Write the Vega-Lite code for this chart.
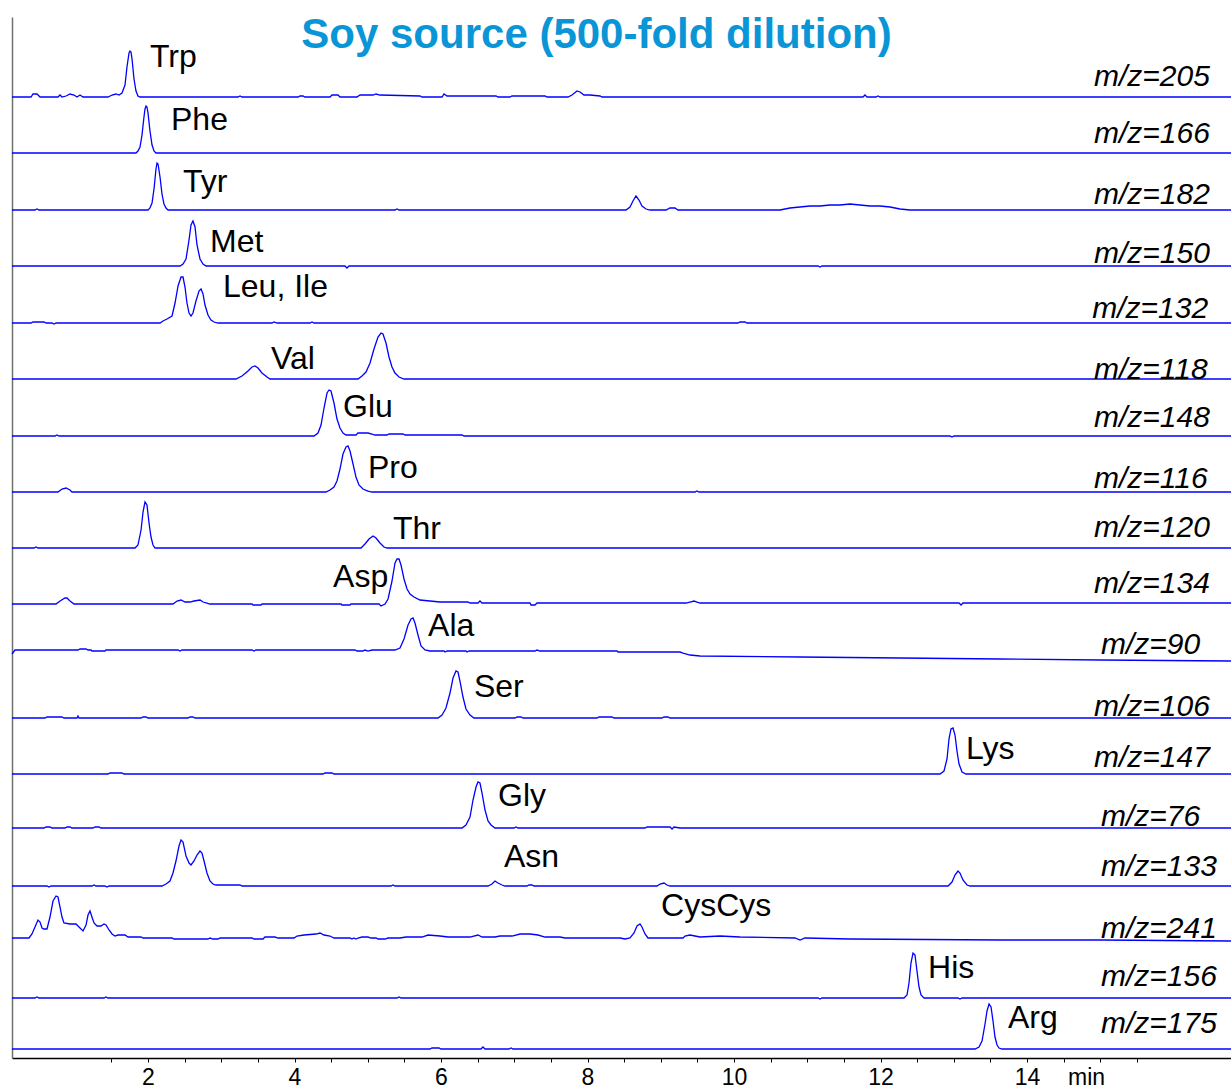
{
"$schema": "https://vega.github.io/schema/vega-lite/v6.json",
"width": 1219, "height": 1041,
"autosize": {"type": "none"},
"padding": {"left": 12, "top": 17, "right": 0, "bottom": 30},
"background": "white",
"config": {"view": {"stroke": null}, "font": "Liberation Sans"},
"title": {"text": "Soy source (500-fold dilution)", "font": "Liberation Sans", "fontSize": 42, "fontWeight": "bold", "color": "#0a95d6", "anchor": "middle", "frame": "group", "dx": -25, "dy": 73, "baseline": "alphabetic", "offset": 0},
"datasets": {
"chrom": [
{"trace":"Trp","t":0.143,"v":0},{"trace":"Trp","t":0.403,"v":0},{"trace":"Trp","t":0.430,"v":3},{"trace":"Trp","t":0.485,"v":3},{"trace":"Trp","t":0.526,"v":0},{"trace":"Trp","t":0.771,"v":0},{"trace":"Trp","t":0.799,"v":2},{"trace":"Trp","t":0.826,"v":0},{"trace":"Trp","t":0.881,"v":1},{"trace":"Trp","t":0.935,"v":3},{"trace":"Trp","t":0.990,"v":2},{"trace":"Trp","t":1.031,"v":0},{"trace":"Trp","t":1.072,"v":2},{"trace":"Trp","t":1.113,"v":0},{"trace":"Trp","t":1.454,"v":0},{"trace":"Trp","t":1.509,"v":2},{"trace":"Trp","t":1.563,"v":3},{"trace":"Trp","t":1.604,"v":2},{"trace":"Trp","t":1.645,"v":4},{"trace":"Trp","t":1.686,"v":12},{"trace":"Trp","t":1.713,"v":30},{"trace":"Trp","t":1.741,"v":44},{"trace":"Trp","t":1.754,"v":46},{"trace":"Trp","t":1.768,"v":45},{"trace":"Trp","t":1.782,"v":38},{"trace":"Trp","t":1.809,"v":18},{"trace":"Trp","t":1.836,"v":6},{"trace":"Trp","t":1.863,"v":1},{"trace":"Trp","t":1.891,"v":0},{"trace":"Trp","t":3.229,"v":0},{"trace":"Trp","t":3.256,"v":1},{"trace":"Trp","t":3.283,"v":0},{"trace":"Trp","t":4.048,"v":0},{"trace":"Trp","t":4.075,"v":1},{"trace":"Trp","t":4.116,"v":1},{"trace":"Trp","t":4.143,"v":0},{"trace":"Trp","t":4.485,"v":0},{"trace":"Trp","t":4.512,"v":2},{"trace":"Trp","t":4.594,"v":2},{"trace":"Trp","t":4.621,"v":0},{"trace":"Trp","t":4.853,"v":0},{"trace":"Trp","t":4.894,"v":2},{"trace":"Trp","t":5.072,"v":2},{"trace":"Trp","t":5.113,"v":3},{"trace":"Trp","t":5.167,"v":2},{"trace":"Trp","t":5.713,"v":1},{"trace":"Trp","t":5.741,"v":0},{"trace":"Trp","t":6.014,"v":0},{"trace":"Trp","t":6.041,"v":3},{"trace":"Trp","t":6.082,"v":1},{"trace":"Trp","t":6.751,"v":1},{"trace":"Trp","t":6.778,"v":0},{"trace":"Trp","t":6.942,"v":0},{"trace":"Trp","t":6.969,"v":1},{"trace":"Trp","t":7.420,"v":1},{"trace":"Trp","t":7.447,"v":0},{"trace":"Trp","t":7.734,"v":0},{"trace":"Trp","t":7.788,"v":2},{"trace":"Trp","t":7.857,"v":6},{"trace":"Trp","t":7.898,"v":5},{"trace":"Trp","t":7.952,"v":2},{"trace":"Trp","t":8.034,"v":2},{"trace":"Trp","t":8.171,"v":1},{"trace":"Trp","t":8.198,"v":0},{"trace":"Trp","t":11.761,"v":0},{"trace":"Trp","t":11.788,"v":2},{"trace":"Trp","t":11.816,"v":0},{"trace":"Trp","t":11.939,"v":0},{"trace":"Trp","t":11.966,"v":1},{"trace":"Trp","t":11.993,"v":0},{"trace":"Trp","t":16.785,"v":0},
{"trace":"Phe","t":0.143,"v":0},{"trace":"Phe","t":1.836,"v":0},{"trace":"Phe","t":1.863,"v":2},{"trace":"Phe","t":1.891,"v":6},{"trace":"Phe","t":1.918,"v":18},{"trace":"Phe","t":1.945,"v":36},{"trace":"Phe","t":1.959,"v":44},{"trace":"Phe","t":1.973,"v":47},{"trace":"Phe","t":1.986,"v":46},{"trace":"Phe","t":2.000,"v":40},{"trace":"Phe","t":2.027,"v":22},{"trace":"Phe","t":2.055,"v":8},{"trace":"Phe","t":2.082,"v":2},{"trace":"Phe","t":2.109,"v":0},{"trace":"Phe","t":16.785,"v":0},
{"trace":"Tyr","t":0.143,"v":-1},{"trace":"Tyr","t":0.457,"v":-1},{"trace":"Tyr","t":0.485,"v":0},{"trace":"Tyr","t":0.512,"v":-1},{"trace":"Tyr","t":2.000,"v":-1},{"trace":"Tyr","t":2.027,"v":1},{"trace":"Tyr","t":2.055,"v":6},{"trace":"Tyr","t":2.082,"v":20},{"trace":"Tyr","t":2.109,"v":40},{"trace":"Tyr","t":2.123,"v":46},{"trace":"Tyr","t":2.137,"v":45},{"trace":"Tyr","t":2.164,"v":32},{"trace":"Tyr","t":2.191,"v":15},{"trace":"Tyr","t":2.218,"v":5},{"trace":"Tyr","t":2.246,"v":1},{"trace":"Tyr","t":2.273,"v":-1},{"trace":"Tyr","t":5.372,"v":-1},{"trace":"Tyr","t":5.400,"v":0},{"trace":"Tyr","t":5.427,"v":-1},{"trace":"Tyr","t":8.526,"v":-1},{"trace":"Tyr","t":8.580,"v":2},{"trace":"Tyr","t":8.621,"v":8},{"trace":"Tyr","t":8.662,"v":13},{"trace":"Tyr","t":8.703,"v":9},{"trace":"Tyr","t":8.744,"v":3},{"trace":"Tyr","t":8.799,"v":0},{"trace":"Tyr","t":8.853,"v":-1},{"trace":"Tyr","t":9.072,"v":-1},{"trace":"Tyr","t":9.126,"v":1},{"trace":"Tyr","t":9.194,"v":1},{"trace":"Tyr","t":9.235,"v":-1},{"trace":"Tyr","t":10.628,"v":-1},{"trace":"Tyr","t":10.764,"v":1},{"trace":"Tyr","t":10.901,"v":2},{"trace":"Tyr","t":11.037,"v":3},{"trace":"Tyr","t":11.174,"v":3},{"trace":"Tyr","t":11.310,"v":4},{"trace":"Tyr","t":11.447,"v":4},{"trace":"Tyr","t":11.584,"v":5},{"trace":"Tyr","t":11.720,"v":4},{"trace":"Tyr","t":11.857,"v":3},{"trace":"Tyr","t":11.993,"v":3},{"trace":"Tyr","t":12.130,"v":2},{"trace":"Tyr","t":12.266,"v":0},{"trace":"Tyr","t":12.403,"v":-1},{"trace":"Tyr","t":16.785,"v":-1},
{"trace":"Met","t":0.143,"v":-1},{"trace":"Met","t":2.437,"v":-1},{"trace":"Met","t":2.478,"v":1},{"trace":"Met","t":2.519,"v":6},{"trace":"Met","t":2.560,"v":25},{"trace":"Met","t":2.587,"v":40},{"trace":"Met","t":2.614,"v":44},{"trace":"Met","t":2.642,"v":38},{"trace":"Met","t":2.669,"v":20},{"trace":"Met","t":2.710,"v":6},{"trace":"Met","t":2.751,"v":1},{"trace":"Met","t":2.792,"v":-1},{"trace":"Met","t":4.689,"v":-1},{"trace":"Met","t":4.716,"v":-3},{"trace":"Met","t":4.744,"v":-1},{"trace":"Met","t":11.147,"v":-1},{"trace":"Met","t":11.174,"v":-2},{"trace":"Met","t":11.201,"v":-1},{"trace":"Met","t":16.785,"v":-1},
{"trace":"Leu","t":0.143,"v":-2},{"trace":"Leu","t":0.403,"v":-2},{"trace":"Leu","t":0.430,"v":-1},{"trace":"Leu","t":0.580,"v":-1},{"trace":"Leu","t":0.608,"v":-2},{"trace":"Leu","t":0.689,"v":-2},{"trace":"Leu","t":0.717,"v":-3},{"trace":"Leu","t":0.744,"v":-2},{"trace":"Leu","t":2.164,"v":-2},{"trace":"Leu","t":2.205,"v":0},{"trace":"Leu","t":2.259,"v":2},{"trace":"Leu","t":2.328,"v":5},{"trace":"Leu","t":2.369,"v":18},{"trace":"Leu","t":2.410,"v":35},{"trace":"Leu","t":2.451,"v":44},{"trace":"Leu","t":2.478,"v":44},{"trace":"Leu","t":2.505,"v":34},{"trace":"Leu","t":2.532,"v":18},{"trace":"Leu","t":2.560,"v":8},{"trace":"Leu","t":2.587,"v":5},{"trace":"Leu","t":2.614,"v":8},{"trace":"Leu","t":2.655,"v":20},{"trace":"Leu","t":2.696,"v":30},{"trace":"Leu","t":2.724,"v":32},{"trace":"Leu","t":2.751,"v":27},{"trace":"Leu","t":2.778,"v":16},{"trace":"Leu","t":2.819,"v":6},{"trace":"Leu","t":2.860,"v":1},{"trace":"Leu","t":2.901,"v":-1},{"trace":"Leu","t":2.956,"v":-2},{"trace":"Leu","t":3.693,"v":-2},{"trace":"Leu","t":3.720,"v":-1},{"trace":"Leu","t":3.761,"v":-2},{"trace":"Leu","t":4.212,"v":-2},{"trace":"Leu","t":4.239,"v":-1},{"trace":"Leu","t":4.266,"v":-2},{"trace":"Leu","t":10.054,"v":-2},{"trace":"Leu","t":10.082,"v":-1},{"trace":"Leu","t":10.150,"v":-1},{"trace":"Leu","t":10.177,"v":-2},{"trace":"Leu","t":16.785,"v":-2},
{"trace":"Val","t":0.143,"v":-2},{"trace":"Val","t":3.201,"v":-2},{"trace":"Val","t":3.283,"v":1},{"trace":"Val","t":3.365,"v":6},{"trace":"Val","t":3.420,"v":10},{"trace":"Val","t":3.461,"v":11},{"trace":"Val","t":3.502,"v":9},{"trace":"Val","t":3.556,"v":4},{"trace":"Val","t":3.625,"v":0},{"trace":"Val","t":3.666,"v":-2},{"trace":"Val","t":4.867,"v":-2},{"trace":"Val","t":4.921,"v":1},{"trace":"Val","t":4.976,"v":5},{"trace":"Val","t":5.031,"v":14},{"trace":"Val","t":5.085,"v":28},{"trace":"Val","t":5.140,"v":40},{"trace":"Val","t":5.181,"v":44},{"trace":"Val","t":5.208,"v":43},{"trace":"Val","t":5.249,"v":34},{"trace":"Val","t":5.290,"v":20},{"trace":"Val","t":5.331,"v":10},{"trace":"Val","t":5.372,"v":4},{"trace":"Val","t":5.427,"v":0},{"trace":"Val","t":5.495,"v":-2},{"trace":"Val","t":16.785,"v":-2},
{"trace":"Glu","t":0.143,"v":-3},{"trace":"Glu","t":0.730,"v":-3},{"trace":"Glu","t":0.758,"v":-2},{"trace":"Glu","t":0.785,"v":-3},{"trace":"Glu","t":4.266,"v":-3},{"trace":"Glu","t":4.321,"v":0},{"trace":"Glu","t":4.362,"v":8},{"trace":"Glu","t":4.403,"v":25},{"trace":"Glu","t":4.444,"v":40},{"trace":"Glu","t":4.471,"v":43},{"trace":"Glu","t":4.498,"v":42},{"trace":"Glu","t":4.539,"v":30},{"trace":"Glu","t":4.580,"v":14},{"trace":"Glu","t":4.621,"v":5},{"trace":"Glu","t":4.662,"v":0},{"trace":"Glu","t":4.703,"v":-2},{"trace":"Glu","t":4.758,"v":-2},{"trace":"Glu","t":4.839,"v":-2},{"trace":"Glu","t":4.867,"v":0},{"trace":"Glu","t":5.003,"v":0},{"trace":"Glu","t":5.058,"v":-1},{"trace":"Glu","t":5.099,"v":-2},{"trace":"Glu","t":5.263,"v":-2},{"trace":"Glu","t":5.290,"v":-1},{"trace":"Glu","t":5.481,"v":-1},{"trace":"Glu","t":5.509,"v":-2},{"trace":"Glu","t":6.287,"v":-2},{"trace":"Glu","t":6.314,"v":-3},{"trace":"Glu","t":12.949,"v":-3},{"trace":"Glu","t":12.976,"v":-4},{"trace":"Glu","t":13.003,"v":-3},{"trace":"Glu","t":16.785,"v":-3},
{"trace":"Pro","t":0.143,"v":-3},{"trace":"Pro","t":0.771,"v":-3},{"trace":"Pro","t":0.826,"v":0},{"trace":"Pro","t":0.881,"v":1},{"trace":"Pro","t":0.935,"v":-1},{"trace":"Pro","t":0.962,"v":-3},{"trace":"Pro","t":4.430,"v":-3},{"trace":"Pro","t":4.485,"v":-1},{"trace":"Pro","t":4.539,"v":2},{"trace":"Pro","t":4.580,"v":8},{"trace":"Pro","t":4.621,"v":20},{"trace":"Pro","t":4.662,"v":35},{"trace":"Pro","t":4.703,"v":42},{"trace":"Pro","t":4.730,"v":43},{"trace":"Pro","t":4.758,"v":38},{"trace":"Pro","t":4.799,"v":25},{"trace":"Pro","t":4.839,"v":12},{"trace":"Pro","t":4.880,"v":4},{"trace":"Pro","t":4.935,"v":0},{"trace":"Pro","t":5.003,"v":-2},{"trace":"Pro","t":5.058,"v":-3},{"trace":"Pro","t":9.467,"v":-3},{"trace":"Pro","t":9.495,"v":-2},{"trace":"Pro","t":9.522,"v":-3},{"trace":"Pro","t":16.785,"v":-3},
{"trace":"Thr","t":0.143,"v":-3},{"trace":"Thr","t":0.444,"v":-3},{"trace":"Thr","t":0.471,"v":-2},{"trace":"Thr","t":0.498,"v":-3},{"trace":"Thr","t":1.823,"v":-3},{"trace":"Thr","t":1.863,"v":0},{"trace":"Thr","t":1.905,"v":15},{"trace":"Thr","t":1.932,"v":33},{"trace":"Thr","t":1.959,"v":43},{"trace":"Thr","t":1.986,"v":40},{"trace":"Thr","t":2.014,"v":22},{"trace":"Thr","t":2.041,"v":8},{"trace":"Thr","t":2.068,"v":0},{"trace":"Thr","t":2.096,"v":-3},{"trace":"Thr","t":4.908,"v":-3},{"trace":"Thr","t":4.962,"v":1},{"trace":"Thr","t":5.017,"v":6},{"trace":"Thr","t":5.072,"v":9},{"trace":"Thr","t":5.113,"v":7},{"trace":"Thr","t":5.167,"v":2},{"trace":"Thr","t":5.222,"v":-2},{"trace":"Thr","t":5.263,"v":-3},{"trace":"Thr","t":16.785,"v":-3},
{"trace":"Asp","t":0.143,"v":-3},{"trace":"Asp","t":0.744,"v":-3},{"trace":"Asp","t":0.799,"v":0},{"trace":"Asp","t":0.867,"v":3},{"trace":"Asp","t":0.894,"v":3},{"trace":"Asp","t":0.935,"v":0},{"trace":"Asp","t":0.990,"v":-3},{"trace":"Asp","t":2.341,"v":-3},{"trace":"Asp","t":2.396,"v":0},{"trace":"Asp","t":2.451,"v":1},{"trace":"Asp","t":2.505,"v":-1},{"trace":"Asp","t":2.573,"v":-1},{"trace":"Asp","t":2.628,"v":0},{"trace":"Asp","t":2.710,"v":1},{"trace":"Asp","t":2.751,"v":-1},{"trace":"Asp","t":2.805,"v":-2},{"trace":"Asp","t":2.846,"v":-3},{"trace":"Asp","t":3.420,"v":-3},{"trace":"Asp","t":3.434,"v":-4},{"trace":"Asp","t":3.543,"v":-4},{"trace":"Asp","t":3.557,"v":-3},{"trace":"Asp","t":4.635,"v":-3},{"trace":"Asp","t":4.648,"v":-4},{"trace":"Asp","t":4.758,"v":-4},{"trace":"Asp","t":4.771,"v":-3},{"trace":"Asp","t":5.154,"v":-3},{"trace":"Asp","t":5.181,"v":-5},{"trace":"Asp","t":5.236,"v":-3},{"trace":"Asp","t":5.277,"v":2},{"trace":"Asp","t":5.331,"v":20},{"trace":"Asp","t":5.372,"v":38},{"trace":"Asp","t":5.400,"v":42},{"trace":"Asp","t":5.427,"v":42},{"trace":"Asp","t":5.454,"v":36},{"trace":"Asp","t":5.495,"v":22},{"trace":"Asp","t":5.536,"v":12},{"trace":"Asp","t":5.577,"v":7},{"trace":"Asp","t":5.631,"v":4},{"trace":"Asp","t":5.713,"v":1},{"trace":"Asp","t":5.850,"v":0},{"trace":"Asp","t":5.986,"v":-1},{"trace":"Asp","t":6.368,"v":-1},{"trace":"Asp","t":6.396,"v":-2},{"trace":"Asp","t":6.505,"v":-2},{"trace":"Asp","t":6.532,"v":0},{"trace":"Asp","t":6.560,"v":-2},{"trace":"Asp","t":7.215,"v":-2},{"trace":"Asp","t":7.229,"v":-4},{"trace":"Asp","t":7.283,"v":-4},{"trace":"Asp","t":7.311,"v":-2},{"trace":"Asp","t":9.345,"v":-2},{"trace":"Asp","t":9.399,"v":-1},{"trace":"Asp","t":9.454,"v":0},{"trace":"Asp","t":9.495,"v":-1},{"trace":"Asp","t":9.536,"v":-2},{"trace":"Asp","t":13.072,"v":-2},{"trace":"Asp","t":13.099,"v":-4},{"trace":"Asp","t":13.126,"v":-2},{"trace":"Asp","t":16.785,"v":-2},
{"trace":"Ala","t":0.143,"v":3},{"trace":"Ala","t":0.184,"v":7},{"trace":"Ala","t":1.044,"v":7},{"trace":"Ala","t":1.072,"v":8},{"trace":"Ala","t":1.154,"v":8},{"trace":"Ala","t":1.181,"v":7},{"trace":"Ala","t":1.222,"v":7},{"trace":"Ala","t":1.235,"v":6},{"trace":"Ala","t":1.413,"v":6},{"trace":"Ala","t":1.427,"v":7},{"trace":"Ala","t":2.410,"v":7},{"trace":"Ala","t":2.437,"v":6},{"trace":"Ala","t":2.464,"v":7},{"trace":"Ala","t":3.420,"v":7},{"trace":"Ala","t":3.447,"v":6},{"trace":"Ala","t":3.474,"v":7},{"trace":"Ala","t":4.826,"v":7},{"trace":"Ala","t":4.853,"v":6},{"trace":"Ala","t":4.935,"v":6},{"trace":"Ala","t":4.962,"v":7},{"trace":"Ala","t":5.003,"v":6},{"trace":"Ala","t":5.058,"v":7},{"trace":"Ala","t":5.372,"v":7},{"trace":"Ala","t":5.440,"v":9},{"trace":"Ala","t":5.495,"v":18},{"trace":"Ala","t":5.550,"v":32},{"trace":"Ala","t":5.591,"v":38},{"trace":"Ala","t":5.618,"v":39},{"trace":"Ala","t":5.645,"v":34},{"trace":"Ala","t":5.686,"v":22},{"trace":"Ala","t":5.727,"v":11},{"trace":"Ala","t":5.782,"v":7},{"trace":"Ala","t":5.850,"v":6},{"trace":"Ala","t":6.041,"v":6},{"trace":"Ala","t":6.055,"v":5},{"trace":"Ala","t":6.082,"v":6},{"trace":"Ala","t":6.341,"v":6},{"trace":"Ala","t":6.355,"v":5},{"trace":"Ala","t":6.382,"v":6},{"trace":"Ala","t":7.283,"v":6},{"trace":"Ala","t":7.311,"v":7},{"trace":"Ala","t":7.352,"v":6},{"trace":"Ala","t":8.403,"v":6},{"trace":"Ala","t":8.417,"v":5},{"trace":"Ala","t":9.263,"v":5},{"trace":"Ala","t":9.304,"v":4},{"trace":"Ala","t":9.399,"v":2},{"trace":"Ala","t":9.536,"v":1},{"trace":"Ala","t":10.901,"v":0},{"trace":"Ala","t":12.266,"v":-1},{"trace":"Ala","t":13.631,"v":-2},{"trace":"Ala","t":14.997,"v":-3},{"trace":"Ala","t":16.785,"v":-4},
{"trace":"Ser","t":0.143,"v":-5},{"trace":"Ser","t":0.594,"v":-5},{"trace":"Ser","t":0.621,"v":-4},{"trace":"Ser","t":0.826,"v":-4},{"trace":"Ser","t":0.853,"v":-5},{"trace":"Ser","t":1.031,"v":-5},{"trace":"Ser","t":1.044,"v":-3},{"trace":"Ser","t":1.058,"v":-5},{"trace":"Ser","t":1.905,"v":-5},{"trace":"Ser","t":1.932,"v":-4},{"trace":"Ser","t":1.973,"v":-4},{"trace":"Ser","t":2.000,"v":-5},{"trace":"Ser","t":2.546,"v":-5},{"trace":"Ser","t":2.573,"v":-4},{"trace":"Ser","t":2.614,"v":-4},{"trace":"Ser","t":2.642,"v":-5},{"trace":"Ser","t":5.959,"v":-5},{"trace":"Ser","t":6.014,"v":-2},{"trace":"Ser","t":6.068,"v":5},{"trace":"Ser","t":6.123,"v":20},{"trace":"Ser","t":6.164,"v":35},{"trace":"Ser","t":6.205,"v":42},{"trace":"Ser","t":6.232,"v":41},{"trace":"Ser","t":6.259,"v":32},{"trace":"Ser","t":6.300,"v":16},{"trace":"Ser","t":6.341,"v":4},{"trace":"Ser","t":6.396,"v":-2},{"trace":"Ser","t":6.450,"v":-5},{"trace":"Ser","t":7.010,"v":-5},{"trace":"Ser","t":7.038,"v":-4},{"trace":"Ser","t":7.092,"v":-4},{"trace":"Ser","t":7.120,"v":-5},{"trace":"Ser","t":8.130,"v":-5},{"trace":"Ser","t":8.157,"v":-4},{"trace":"Ser","t":8.335,"v":-4},{"trace":"Ser","t":8.362,"v":-5},{"trace":"Ser","t":9.017,"v":-5},{"trace":"Ser","t":9.044,"v":-4},{"trace":"Ser","t":9.099,"v":-4},{"trace":"Ser","t":9.126,"v":-5},{"trace":"Ser","t":16.785,"v":-5},
{"trace":"Lys","t":0.143,"v":-5},{"trace":"Lys","t":1.454,"v":-5},{"trace":"Lys","t":1.481,"v":-4},{"trace":"Lys","t":1.645,"v":-4},{"trace":"Lys","t":1.672,"v":-5},{"trace":"Lys","t":4.389,"v":-5},{"trace":"Lys","t":4.416,"v":-4},{"trace":"Lys","t":4.512,"v":-4},{"trace":"Lys","t":4.539,"v":-5},{"trace":"Lys","t":12.812,"v":-5},{"trace":"Lys","t":12.867,"v":-2},{"trace":"Lys","t":12.908,"v":10},{"trace":"Lys","t":12.935,"v":30},{"trace":"Lys","t":12.962,"v":40},{"trace":"Lys","t":12.990,"v":41},{"trace":"Lys","t":13.017,"v":34},{"trace":"Lys","t":13.044,"v":18},{"trace":"Lys","t":13.072,"v":5},{"trace":"Lys","t":13.113,"v":-3},{"trace":"Lys","t":13.167,"v":-5},{"trace":"Lys","t":16.785,"v":-5},
{"trace":"Gly","t":0.143,"v":-3},{"trace":"Gly","t":0.580,"v":-3},{"trace":"Gly","t":0.608,"v":-2},{"trace":"Gly","t":0.662,"v":-2},{"trace":"Gly","t":0.689,"v":-3},{"trace":"Gly","t":0.867,"v":-3},{"trace":"Gly","t":0.894,"v":-2},{"trace":"Gly","t":0.935,"v":-2},{"trace":"Gly","t":0.962,"v":-3},{"trace":"Gly","t":1.249,"v":-3},{"trace":"Gly","t":1.276,"v":-2},{"trace":"Gly","t":1.331,"v":-2},{"trace":"Gly","t":1.358,"v":-3},{"trace":"Gly","t":6.287,"v":-3},{"trace":"Gly","t":6.341,"v":0},{"trace":"Gly","t":6.396,"v":8},{"trace":"Gly","t":6.437,"v":25},{"trace":"Gly","t":6.478,"v":38},{"trace":"Gly","t":6.505,"v":43},{"trace":"Gly","t":6.532,"v":42},{"trace":"Gly","t":6.560,"v":32},{"trace":"Gly","t":6.601,"v":15},{"trace":"Gly","t":6.642,"v":4},{"trace":"Gly","t":6.683,"v":0},{"trace":"Gly","t":6.737,"v":-3},{"trace":"Gly","t":6.997,"v":-3},{"trace":"Gly","t":7.024,"v":-2},{"trace":"Gly","t":7.051,"v":-3},{"trace":"Gly","t":8.785,"v":-3},{"trace":"Gly","t":8.812,"v":-2},{"trace":"Gly","t":9.126,"v":-2},{"trace":"Gly","t":9.154,"v":-4},{"trace":"Gly","t":9.181,"v":-2},{"trace":"Gly","t":9.263,"v":-3},{"trace":"Gly","t":16.785,"v":-3},
{"trace":"Asn","t":0.143,"v":-5},{"trace":"Asn","t":0.621,"v":-5},{"trace":"Asn","t":0.648,"v":-6},{"trace":"Asn","t":0.676,"v":-5},{"trace":"Asn","t":1.235,"v":-5},{"trace":"Asn","t":1.263,"v":-4},{"trace":"Asn","t":1.290,"v":-5},{"trace":"Asn","t":1.413,"v":-5},{"trace":"Asn","t":1.440,"v":-6},{"trace":"Asn","t":1.468,"v":-5},{"trace":"Asn","t":2.191,"v":-5},{"trace":"Asn","t":2.246,"v":-3},{"trace":"Asn","t":2.300,"v":0},{"trace":"Asn","t":2.341,"v":8},{"trace":"Asn","t":2.382,"v":20},{"trace":"Asn","t":2.423,"v":35},{"trace":"Asn","t":2.451,"v":41},{"trace":"Asn","t":2.478,"v":39},{"trace":"Asn","t":2.519,"v":25},{"trace":"Asn","t":2.560,"v":18},{"trace":"Asn","t":2.587,"v":16},{"trace":"Asn","t":2.628,"v":20},{"trace":"Asn","t":2.669,"v":26},{"trace":"Asn","t":2.710,"v":30},{"trace":"Asn","t":2.737,"v":28},{"trace":"Asn","t":2.765,"v":20},{"trace":"Asn","t":2.805,"v":8},{"trace":"Asn","t":2.846,"v":0},{"trace":"Asn","t":2.887,"v":-3},{"trace":"Asn","t":2.928,"v":-4},{"trace":"Asn","t":3.256,"v":-4},{"trace":"Asn","t":3.283,"v":-5},{"trace":"Asn","t":5.317,"v":-5},{"trace":"Asn","t":5.345,"v":-4},{"trace":"Asn","t":5.372,"v":-5},{"trace":"Asn","t":6.642,"v":-5},{"trace":"Asn","t":6.696,"v":-3},{"trace":"Asn","t":6.737,"v":0},{"trace":"Asn","t":6.778,"v":-2},{"trace":"Asn","t":6.833,"v":-4},{"trace":"Asn","t":6.874,"v":-5},{"trace":"Asn","t":7.174,"v":-5},{"trace":"Asn","t":7.201,"v":-4},{"trace":"Asn","t":7.242,"v":-4},{"trace":"Asn","t":7.270,"v":-5},{"trace":"Asn","t":8.949,"v":-5},{"trace":"Asn","t":8.990,"v":-3},{"trace":"Asn","t":9.044,"v":-2},{"trace":"Asn","t":9.085,"v":-4},{"trace":"Asn","t":9.126,"v":-5},{"trace":"Asn","t":12.922,"v":-5},{"trace":"Asn","t":12.976,"v":-1},{"trace":"Asn","t":13.017,"v":6},{"trace":"Asn","t":13.058,"v":10},{"trace":"Asn","t":13.085,"v":8},{"trace":"Asn","t":13.126,"v":1},{"trace":"Asn","t":13.181,"v":-4},{"trace":"Asn","t":13.222,"v":-5},{"trace":"Asn","t":16.785,"v":-5},
{"trace":"CysCys","t":0.143,"v":-1},{"trace":"CysCys","t":0.375,"v":-1},{"trace":"CysCys","t":0.416,"v":3},{"trace":"CysCys","t":0.457,"v":10},{"trace":"CysCys","t":0.498,"v":17},{"trace":"CysCys","t":0.526,"v":15},{"trace":"CysCys","t":0.553,"v":9},{"trace":"CysCys","t":0.580,"v":8},{"trace":"CysCys","t":0.621,"v":8},{"trace":"CysCys","t":0.662,"v":20},{"trace":"CysCys","t":0.703,"v":36},{"trace":"CysCys","t":0.744,"v":41},{"trace":"CysCys","t":0.771,"v":40},{"trace":"CysCys","t":0.799,"v":30},{"trace":"CysCys","t":0.826,"v":20},{"trace":"CysCys","t":0.853,"v":14},{"trace":"CysCys","t":0.935,"v":13},{"trace":"CysCys","t":1.017,"v":13},{"trace":"CysCys","t":1.072,"v":9},{"trace":"CysCys","t":1.113,"v":6},{"trace":"CysCys","t":1.154,"v":12},{"trace":"CysCys","t":1.181,"v":22},{"trace":"CysCys","t":1.208,"v":26},{"trace":"CysCys","t":1.235,"v":20},{"trace":"CysCys","t":1.263,"v":14},{"trace":"CysCys","t":1.304,"v":11},{"trace":"CysCys","t":1.358,"v":11},{"trace":"CysCys","t":1.399,"v":13},{"trace":"CysCys","t":1.427,"v":12},{"trace":"CysCys","t":1.468,"v":7},{"trace":"CysCys","t":1.509,"v":3},{"trace":"CysCys","t":1.549,"v":1},{"trace":"CysCys","t":1.590,"v":2},{"trace":"CysCys","t":1.686,"v":2},{"trace":"CysCys","t":1.727,"v":0},{"trace":"CysCys","t":1.905,"v":0},{"trace":"CysCys","t":1.932,"v":-1},{"trace":"CysCys","t":2.328,"v":-1},{"trace":"CysCys","t":2.355,"v":-2},{"trace":"CysCys","t":2.819,"v":-2},{"trace":"CysCys","t":2.846,"v":-1},{"trace":"CysCys","t":2.887,"v":-2},{"trace":"CysCys","t":2.956,"v":-2},{"trace":"CysCys","t":2.983,"v":-1},{"trace":"CysCys","t":3.420,"v":-1},{"trace":"CysCys","t":3.447,"v":-2},{"trace":"CysCys","t":3.570,"v":-2},{"trace":"CysCys","t":3.597,"v":0},{"trace":"CysCys","t":3.734,"v":0},{"trace":"CysCys","t":3.775,"v":-1},{"trace":"CysCys","t":3.993,"v":-1},{"trace":"CysCys","t":4.034,"v":1},{"trace":"CysCys","t":4.130,"v":2},{"trace":"CysCys","t":4.293,"v":3},{"trace":"CysCys","t":4.348,"v":4},{"trace":"CysCys","t":4.402,"v":2},{"trace":"CysCys","t":4.485,"v":1},{"trace":"CysCys","t":4.539,"v":-1},{"trace":"CysCys","t":4.758,"v":-1},{"trace":"CysCys","t":4.785,"v":-2},{"trace":"CysCys","t":4.812,"v":-1},{"trace":"CysCys","t":4.839,"v":-2},{"trace":"CysCys","t":4.867,"v":-1},{"trace":"CysCys","t":4.921,"v":0},{"trace":"CysCys","t":5.003,"v":0},{"trace":"CysCys","t":5.044,"v":-1},{"trace":"CysCys","t":5.113,"v":-1},{"trace":"CysCys","t":5.140,"v":-2},{"trace":"CysCys","t":5.236,"v":-2},{"trace":"CysCys","t":5.277,"v":-1},{"trace":"CysCys","t":5.440,"v":-1},{"trace":"CysCys","t":5.522,"v":0},{"trace":"CysCys","t":5.741,"v":0},{"trace":"CysCys","t":5.823,"v":2},{"trace":"CysCys","t":5.986,"v":1},{"trace":"CysCys","t":6.096,"v":0},{"trace":"CysCys","t":6.396,"v":0},{"trace":"CysCys","t":6.505,"v":2},{"trace":"CysCys","t":6.560,"v":0},{"trace":"CysCys","t":6.737,"v":0},{"trace":"CysCys","t":6.805,"v":1},{"trace":"CysCys","t":6.969,"v":1},{"trace":"CysCys","t":7.079,"v":3},{"trace":"CysCys","t":7.215,"v":3},{"trace":"CysCys","t":7.324,"v":2},{"trace":"CysCys","t":7.420,"v":0},{"trace":"CysCys","t":7.625,"v":0},{"trace":"CysCys","t":7.693,"v":-1},{"trace":"CysCys","t":8.444,"v":-1},{"trace":"CysCys","t":8.512,"v":-2},{"trace":"CysCys","t":8.580,"v":-1},{"trace":"CysCys","t":8.635,"v":4},{"trace":"CysCys","t":8.676,"v":11},{"trace":"CysCys","t":8.717,"v":13},{"trace":"CysCys","t":8.744,"v":10},{"trace":"CysCys","t":8.785,"v":3},{"trace":"CysCys","t":8.826,"v":-1},{"trace":"CysCys","t":9.304,"v":-1},{"trace":"CysCys","t":9.331,"v":1},{"trace":"CysCys","t":9.399,"v":2},{"trace":"CysCys","t":9.467,"v":1},{"trace":"CysCys","t":9.536,"v":0},{"trace":"CysCys","t":9.809,"v":1},{"trace":"CysCys","t":10.082,"v":0},{"trace":"CysCys","t":10.833,"v":-1},{"trace":"CysCys","t":10.901,"v":-3},{"trace":"CysCys","t":10.969,"v":-1},{"trace":"CysCys","t":11.584,"v":-2},{"trace":"CysCys","t":13.631,"v":-3},{"trace":"CysCys","t":14.997,"v":-3},{"trace":"CysCys","t":16.785,"v":-4},
{"trace":"His","t":0.143,"v":-5},{"trace":"His","t":0.457,"v":-5},{"trace":"His","t":0.485,"v":-4},{"trace":"His","t":0.512,"v":-5},{"trace":"His","t":1.399,"v":-5},{"trace":"His","t":1.427,"v":-4},{"trace":"His","t":1.454,"v":-5},{"trace":"His","t":5.400,"v":-5},{"trace":"His","t":5.427,"v":-4},{"trace":"His","t":5.454,"v":-5},{"trace":"His","t":11.147,"v":-5},{"trace":"His","t":11.174,"v":-6},{"trace":"His","t":11.201,"v":-5},{"trace":"His","t":12.321,"v":-5},{"trace":"His","t":12.362,"v":-2},{"trace":"His","t":12.389,"v":10},{"trace":"His","t":12.416,"v":30},{"trace":"His","t":12.444,"v":40},{"trace":"His","t":12.471,"v":38},{"trace":"His","t":12.498,"v":22},{"trace":"His","t":12.526,"v":6},{"trace":"His","t":12.553,"v":-2},{"trace":"His","t":12.594,"v":-5},{"trace":"His","t":13.058,"v":-5},{"trace":"His","t":13.085,"v":-6},{"trace":"His","t":13.113,"v":-5},{"trace":"His","t":16.785,"v":-5},
{"trace":"Arg","t":0.143,"v":0},{"trace":"Arg","t":5.850,"v":0},{"trace":"Arg","t":5.877,"v":1},{"trace":"Arg","t":5.973,"v":1},{"trace":"Arg","t":6.000,"v":0},{"trace":"Arg","t":6.546,"v":0},{"trace":"Arg","t":6.573,"v":2},{"trace":"Arg","t":6.601,"v":0},{"trace":"Arg","t":6.928,"v":0},{"trace":"Arg","t":6.956,"v":1},{"trace":"Arg","t":6.983,"v":0},{"trace":"Arg","t":13.290,"v":0},{"trace":"Arg","t":13.345,"v":2},{"trace":"Arg","t":13.386,"v":8},{"trace":"Arg","t":13.427,"v":25},{"trace":"Arg","t":13.454,"v":38},{"trace":"Arg","t":13.482,"v":45},{"trace":"Arg","t":13.509,"v":42},{"trace":"Arg","t":13.536,"v":28},{"trace":"Arg","t":13.563,"v":12},{"trace":"Arg","t":13.591,"v":4},{"trace":"Arg","t":13.618,"v":1},{"trace":"Arg","t":13.659,"v":0},{"trace":"Arg","t":16.785,"v":0}
],
"labels": [
{"trace":"Trp","name":"Trp","nt":2.027,"nv":30,"mz":"m/z=205","mt":14.915,"mv":11},
{"trace":"Phe","name":"Phe","nt":2.314,"nv":23,"mz":"m/z=166","mt":14.915,"mv":10},
{"trace":"Tyr","name":"Tyr","nt":2.478,"nv":17,"mz":"m/z=182","mt":14.915,"mv":5},
{"trace":"Met","name":"Met","nt":2.847,"nv":13,"mz":"m/z=150","mt":14.915,"mv":2},
{"trace":"Leu","name":"Leu, Ile","nt":3.024,"nv":24,"mz":"m/z=132","mt":14.89,"mv":3},
{"trace":"Val","name":"Val","nt":3.679,"nv":8,"mz":"m/z=118","mt":14.915,"mv":-2},
{"trace":"Glu","name":"Glu","nt":4.662,"nv":16,"mz":"m/z=148","mt":14.915,"mv":6},
{"trace":"Pro","name":"Pro","nt":5.003,"nv":11,"mz":"m/z=116","mt":14.915,"mv":1},
{"trace":"Thr","name":"Thr","nt":5.345,"nv":6,"mz":"m/z=120","mt":14.915,"mv":8},
{"trace":"Asp","name":"Asp","nt":4.526,"nv":14,"mz":"m/z=134","mt":14.915,"mv":8},
{"trace":"Ala","name":"Ala","nt":5.823,"nv":21,"mz":"m/z=90","mt":15.01,"mv":3},
{"trace":"Ser","name":"Ser","nt":6.450,"nv":16,"mz":"m/z=106","mt":14.915,"mv":-3},
{"trace":"Lys","name":"Lys","nt":13.167,"nv":10,"mz":"m/z=147","mt":14.915,"mv":2},
{"trace":"Gly","name":"Gly","nt":6.778,"nv":19,"mz":"m/z=76","mt":15.01,"mv":-1},
{"trace":"Asn","name":"Asn","nt":6.860,"nv":14,"mz":"m/z=133","mt":15.01,"mv":5},
{"trace":"CysCys","name":"CysCys","nt":9.004,"nv":21,"mz":"m/z=241","mt":15.01,"mv":-1},
{"trace":"His","name":"His","nt":12.649,"nv":15,"mz":"m/z=156","mt":15.01,"mv":7},
{"trace":"Arg","name":"Arg","nt":13.741,"nv":21,"mz":"m/z=175","mt":15.01,"mv":16}
]
},
"layer": [
{"data": {"name": "chrom"},
 "mark": {"type": "line", "color": "#0000ff", "strokeWidth": 1.3},
 "encoding": {
  "x": {"field": "t", "type": "quantitative",
        "scale": {"domain": [0.1433, 16.785], "nice": false, "zero": false},
        "axis": {"values": [1.5,2,2.5,3,3.5,4,4.5,5,5.5,6,6.5,7,7.5,8,8.5,9,9.5,10,10.5,11,11.5,12,12.5,13,13.5,14,14.5,15,15.5],
                 "labelExpr": "datum.value % 2 == 0 ? format(datum.value, 'd') : ''",
                 "grid": false, "domainColor": "black", "domainWidth": 1.5, "tickColor": "black", "tickSize": 4, "tickWidth": 1,
                 "labelFont": "Liberation Sans", "labelFontSize": 23, "labelColor": "black", "labelPadding": 4, "labelFlush": false, "labelOverlap": false,
                 "title": "min", "titleFont": "Liberation Sans", "titleFontSize": 23, "titleFontWeight": "normal", "titleColor": "black",
                 "titleX": 1074, "titleY": 8, "titleAlign": "center", "titleBaseline": "top", "titleAnchor": null}},
  "y": {"field": "trace", "type": "nominal",
        "scale": {"type": "point", "domain": ["Trp","Phe","Tyr","Met","Leu","Val","Glu","Pro","Thr","Asp","Ala","Ser","Lys","Gly","Asn","CysCys","His","Arg"], "padding": 0.7946, "align": 0.899},
        "axis": {"labels": false, "ticks": false, "title": null, "grid": false, "domain": true, "domainColor": "#707070", "domainWidth": 1.5}},
  "yOffset": {"field": "v", "type": "quantitative", "scale": {"domain": [0, 100], "range": [0, -100], "zero": false, "nice": false}},
  "order": {"field": "t", "type": "quantitative"},
  "detail": {"field": "trace"}
 }},
{"data": {"name": "labels"},
 "mark": {"type": "text", "align": "left", "baseline": "alphabetic", "fontSize": 32, "font": "Liberation Sans", "color": "black"},
 "encoding": {
  "x": {"field": "nt", "type": "quantitative"},
  "y": {"field": "trace", "type": "nominal"},
  "yOffset": {"field": "nv", "type": "quantitative", "scale": {"domain": [0, 100], "range": [0, -100], "zero": false, "nice": false}},
  "text": {"field": "name"}
 }},
{"data": {"name": "labels"},
 "mark": {"type": "text", "align": "left", "baseline": "alphabetic", "fontSize": 30, "fontStyle": "italic", "font": "Liberation Sans", "color": "black"},
 "encoding": {
  "x": {"field": "mt", "type": "quantitative"},
  "y": {"field": "trace", "type": "nominal"},
  "yOffset": {"field": "mv", "type": "quantitative", "scale": {"domain": [0, 100], "range": [0, -100], "zero": false, "nice": false}},
  "text": {"field": "mz"}
 }}
]
}
